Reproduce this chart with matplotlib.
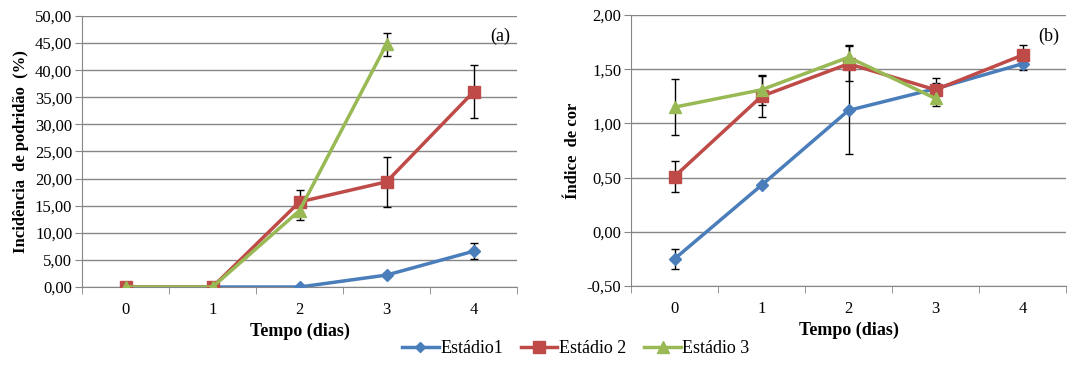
import matplotlib.pyplot as plt
import numpy as np
from matplotlib.ticker import FuncFormatter, FixedLocator
from matplotlib.lines import Line2D

plt.rcParams['font.family'] = ['Liberation Serif', 'DejaVu Serif']

dias = [0, 1, 2, 3, 4]
series = ['Estádio1', 'Estádio 2', 'Estádio 3']

# (a) incidencia de podridao (%)
pod_e1 = [0.0, 0.0, 0.0, 2.2, 6.6]
pod_e1_err = [0.0, 0.0, 0.0, 0.4, 1.5]
pod_e2 = [0.0, 0.0, 15.7, 19.4, 36.0]
pod_e2_err = [0.0, 0.0, 2.2, 4.6, 4.9]
pod_e3 = [0.0, 0.0, 14.1, 44.8, np.nan]
pod_e3_err = [0.0, 0.0, 1.7, 2.1, np.nan]

# (b) indice de cor
cor_e1 = [-0.25, 0.43, 1.12, 1.32, 1.55]
cor_e1_err = [0.09, 0.02, 0.40, 0.05, 0.06]
cor_e2 = [0.51, 1.25, 1.55, 1.31, 1.63]
cor_e2_err = [0.14, 0.19, 0.16, 0.11, 0.09]
cor_e3 = [1.15, 1.31, 1.61, 1.23, np.nan]
cor_e3_err = [0.26, 0.14, 0.11, 0.07, np.nan]

cores = ['#4A7EBB', '#BE4B48', '#98B954']
marcadores = ['D', 's', '^']
tamanhos = [6, 9, 9]

fig = plt.figure(figsize=(10.91, 3.77), dpi=100)
ax1 = fig.add_axes([0.0752, 0.2387, 0.3987, 0.719])
ax2 = fig.add_axes([0.5784, 0.2414, 0.3987, 0.7188])

virg = FuncFormatter(lambda v, p: f'{v:.2f}'.replace('.', ','))


def desenha(ax, dados, erros, ylim, passo, ylabel, letra):
    for i, (y, e) in enumerate(zip(dados, erros)):
        ax.errorbar(dias, y, yerr=e, color=cores[i], ecolor='black', elinewidth=1,
                    capsize=3, capthick=1, lw=2.5, marker=marcadores[i],
                    ms=tamanhos[i], mec=cores[i], zorder=3)
    ax.set_xlim(-0.5, 4.5)
    ax.set_ylim(*ylim)
    ax.set_yticks(np.arange(ylim[0], ylim[1] + passo / 2, passo))
    ax.yaxis.set_major_formatter(virg)
    ax.set_xticks(dias)
    ax.xaxis.set_minor_locator(FixedLocator(np.arange(-0.5, 5, 1)))
    ax.tick_params(axis='x', which='major', length=0, pad=11, labelsize=12)
    ax.tick_params(axis='x', which='minor', length=5, color='#868686')
    ax.tick_params(axis='y', length=5, color='#868686', labelsize=12, pad=2)
    ax.grid(axis='y', color='#868686', lw=1)
    ax.set_axisbelow(True)
    for s in ['top', 'right']:
        ax.spines[s].set_visible(False)
    for s in ['left', 'bottom']:
        ax.spines[s].set_color('#868686')
    ax.set_xlabel('Tempo (dias)', fontsize=13, fontweight='bold', labelpad=3)
    ax.set_ylabel(ylabel, fontsize=12, fontweight='bold', labelpad=4)
    ax.text(0.985, 0.955, letra, transform=ax.transAxes, ha='right', va='top', fontsize=13)


desenha(ax1, [pod_e1, pod_e2, pod_e3], [pod_e1_err, pod_e2_err, pod_e3_err],
        (0, 50), 5, 'Incidência  de podridão  (%)', '(a)')
desenha(ax2, [cor_e1, cor_e2, cor_e3], [cor_e1_err, cor_e2_err, cor_e3_err],
        (-0.5, 2.0), 0.5, 'Índice  de cor', '(b)')

alcas = [Line2D([], [], color=cores[i], lw=2.5, marker=marcadores[i],
                ms=tamanhos[i] - 1, mec=cores[i]) for i in range(3)]
fig.legend(alcas, series, loc='center', bbox_to_anchor=(0.528, 0.075), ncol=3,
           frameon=False, fontsize=13, handlelength=2.0, handletextpad=0.1,
           columnspacing=1.0)

fig.savefig('out.png', dpi=100)
